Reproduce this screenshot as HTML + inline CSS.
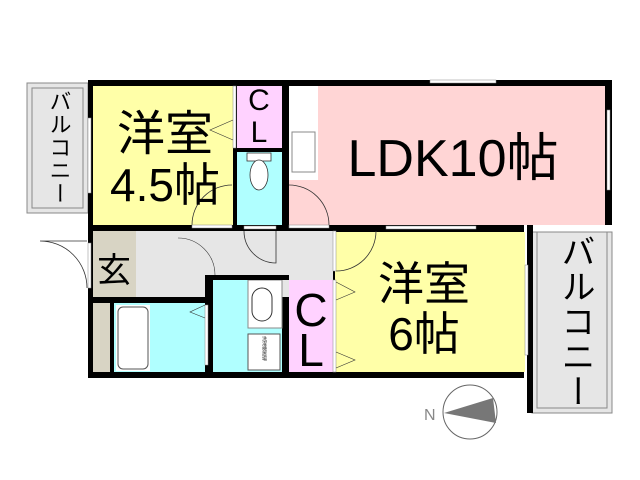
<!DOCTYPE html>
<html><head><meta charset="utf-8"><style>
html,body{margin:0;padding:0;background:#fff;}
svg{display:block}
text{font-family:"Liberation Sans","Noto Sans CJK JP",sans-serif;}
</style></head><body>
<svg width="640" height="480" viewBox="0 0 640 480" xmlns="http://www.w3.org/2000/svg">
<rect width="640" height="480" fill="#fff"/>
<rect x="27" y="83" width="61" height="130" fill="#e6e6e6" stroke="#888" stroke-width="1"/>
<rect x="32" y="88" width="51" height="120" fill="none" stroke="#888" stroke-width="1"/>
<rect x="88" y="80" width="524" height="298" fill="#000"/>
<rect x="524" y="225" width="88" height="153" fill="#fff"/>
<rect x="532" y="232" width="80" height="181" fill="#e6e6e6" stroke="#888"/>
<rect x="537" y="232" width="70" height="176" fill="none" stroke="#888"/>
<rect x="527" y="225" width="6" height="188" fill="#000"/>
<rect x="93" y="86" width="140" height="139" fill="#ffffa8"/>
<rect x="237" y="86" width="45" height="62" fill="#ffd2ff"/>
<rect x="237" y="152" width="45" height="73" fill="#b0ffff"/>
<rect x="289" y="86" width="316" height="139" fill="#ffd5d5"/>
<rect x="289" y="86" width="29" height="94" fill="#fff"/>
<rect x="292" y="132" width="23" height="40" fill="#fff" stroke="#888"/>
<rect x="93" y="231" width="240" height="66" fill="#e6e6e6"/>
<rect x="93" y="231" width="43" height="66" fill="#d8d4c4"/>
<rect x="335" y="232" width="190" height="140" fill="#ffffa8"/>
<rect x="93" y="303" width="17" height="69" fill="#d8d4c4"/>
<rect x="114" y="303" width="91" height="69" fill="#b0ffff"/>
<rect x="116" y="305" width="34" height="66" fill="#fff"/>
<rect x="118" y="307" width="30" height="62" rx="5" fill="#fff" stroke="#555"/>
<rect x="213" y="280" width="69" height="92" fill="#b0ffff"/>
<rect x="248" y="280" width="34" height="48" fill="#fff" stroke="#888"/>
<rect x="252" y="288" width="20" height="33" rx="10" fill="#fff" stroke="#333"/>
<rect x="248" y="334" width="32" height="36" fill="#fff" stroke="#555"/>
<text x="264" y="336" font-size="5" writing-mode="tb" fill="#333">洗濯機置場</text>
<rect x="289" y="280" width="44" height="92" fill="#ffd2ff"/>
<rect x="205" y="275" width="8" height="28" fill="#000"/>
<rect x="213" y="275" width="76" height="5" fill="#000"/>
<rect x="88" y="297" width="120" height="6" fill="#000"/>
<rect x="430" y="80" width="66" height="3" fill="#fff" stroke="#888" stroke-width="0.5"/>
<rect x="607" y="110" width="3" height="80" fill="#fff" stroke="#888" stroke-width="0.5"/>
<rect x="88" y="118" width="3" height="75" fill="#fff" stroke="#888" stroke-width="0.5"/>
<rect x="525" y="265" width="3" height="90" fill="#fff" stroke="#888" stroke-width="0.5"/>
<rect x="386" y="226" width="90" height="3" fill="#fff" stroke="#888" stroke-width="0.5"/>
<rect x="88" y="243" width="3" height="45" fill="#fff" stroke="#888" stroke-width="0.5"/>
<path d="M87 288 A47 47 0 0 0 40 241 L87 241" fill="#fff" stroke="#333" stroke-width="0.8"/>
<path d="M192 225 A40 40 0 0 1 232 185" fill="none" stroke="#333" stroke-width="0.8"/>
<rect x="192" y="225" width="40" height="3" fill="#fff" stroke="#888" stroke-width="0.5"/>
<path d="M289 185 A40 40 0 0 1 329 225" fill="none" stroke="#333" stroke-width="0.8"/>
<rect x="289" y="225" width="40" height="3" fill="#fff" stroke="#888" stroke-width="0.5"/>
<path d="M244 231 A32 32 0 0 0 276 263 L276 231" fill="none" stroke="#333" stroke-width="0.8"/>
<rect x="244" y="226" width="32" height="3" fill="#fff" stroke="#888" stroke-width="0.5"/>
<path d="M215 275 A37 37 0 0 0 178 238" fill="none" stroke="#333" stroke-width="0.6"/>
<path d="M336 271 A40 40 0 0 0 376 231" fill="none" stroke="#333" stroke-width="0.8"/>
<rect x="333" y="231" width="3" height="40" fill="#fff" stroke="#888" stroke-width="0.5"/>
<rect x="333" y="280" width="3" height="92" fill="#fff" stroke="#888" stroke-width="0.5"/>
<rect x="233" y="86" width="3" height="62" fill="#fff" stroke="#888" stroke-width="0.5"/>
<rect x="205" y="305" width="3" height="60" fill="#fff" stroke="#888" stroke-width="0.5"/>
<path d="M233 120 L210 130 L233 140" fill="none" stroke="#333" stroke-width="0.6"/>
<path d="M205 305 L190 312 L205 318" fill="none" stroke="#333" stroke-width="0.6"/>
<path d="M336 282 L355 292 L336 300 M336 352 L355 360 L336 368" fill="none" stroke="#333" stroke-width="0.6"/>
<rect x="247" y="153" width="24" height="8" fill="#fff" stroke="#333" stroke-width="0.8"/>
<ellipse cx="259" cy="175" rx="9" ry="15" fill="#fff" stroke="#333" stroke-width="0.8"/>
<text x="165" y="150" font-size="48" text-anchor="middle">洋室</text>
<text x="165" y="201" font-size="46" text-anchor="middle">4.5帖</text>
<text x="259" y="110" font-size="30" text-anchor="middle">C</text>
<text x="259" y="142" font-size="30" text-anchor="middle">L</text>
<text x="453" y="176" font-size="52" text-anchor="middle">LDK10帖</text>
<text x="424" y="300" font-size="46" text-anchor="middle">洋室</text>
<text x="424" y="350" font-size="46" text-anchor="middle">6帖</text>
<text x="311" y="326" font-size="46" text-anchor="middle">C</text>
<text x="311" y="366" font-size="46" text-anchor="middle">L</text>
<text x="114" y="282" font-size="34" text-anchor="middle">玄</text>
<text x="59" y="90" font-size="22" writing-mode="tb" letter-spacing="1">バルコニー</text>
<text x="575" y="234" font-size="34" writing-mode="tb" letter-spacing="1">バルコニー</text>
<circle cx="470" cy="412" r="27" fill="#fff" stroke="#666" stroke-width="1"/>
<polygon points="444,413 493,398 496,423" fill="#777"/>
<text x="424" y="420" font-size="16" fill="#888">N</text>
</svg>
</body></html>
